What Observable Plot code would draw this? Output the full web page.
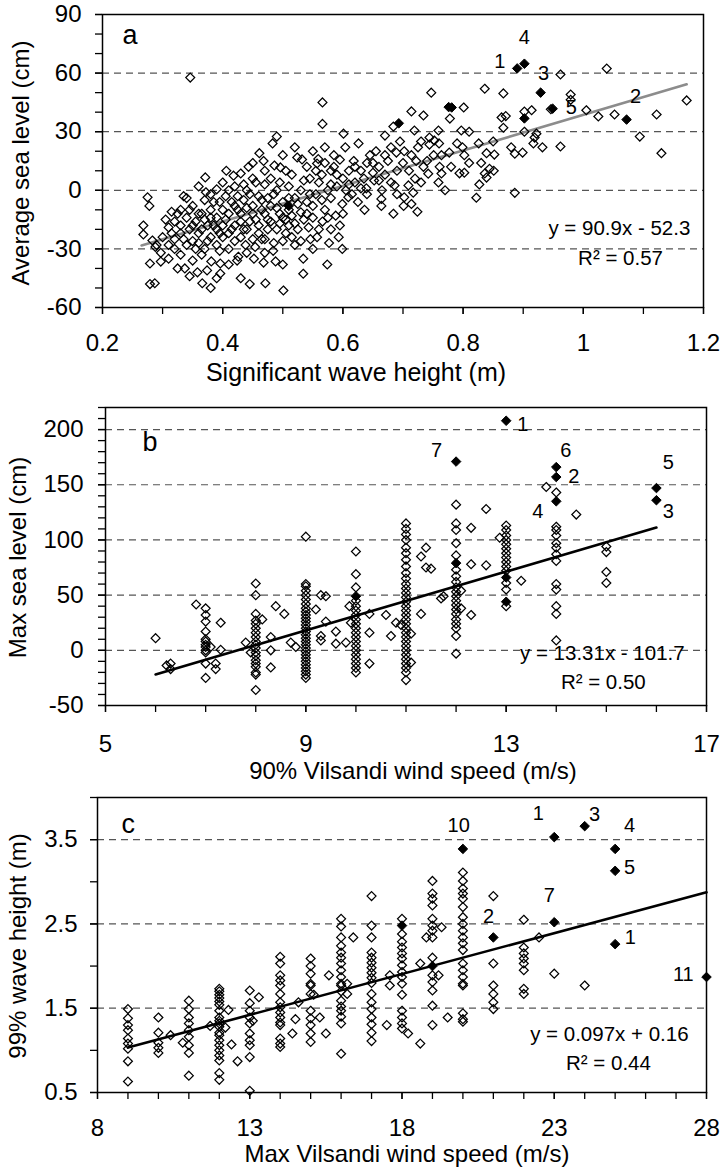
<!DOCTYPE html>
<html><head><meta charset="utf-8">
<script src="https://cdn.jsdelivr.net/npm/d3@7"></script>
<script src="https://cdn.jsdelivr.net/npm/@observablehq/plot@0.6"></script>
<style>body{margin:0;background:#fff} svg{display:block}</style>
</head><body><div id="chart"></div>
<script>
// ---------- Panel a: Significant wave height vs average sea level ----------
const aOpen = [
[0.268,-18],[0.268,-22.6],[0.275,-3.6],[0.278,-8],[0.283,-25.7],[0.288,-29],[0.297,-32],[0.279,-37.5],[0.297,-36.5],[0.279,-48],[0.287,-47.6],[0.29,-28],[0.30,-24],
[0.31,-28],[0.315,-22],[0.32,-16],[0.325,-12],[0.33,-18],[0.335,-25],[0.32,-30],[0.33,-33],[0.325,-40],[0.337,-40],[0.335,-3],[0.34,-4],[0.33,-10],[0.34,-14],[0.31,-19],[0.345,-20],[0.34,-28],[0.345,-44],[0.346,57.7],
[0.35,-8],[0.355,-16],[0.36,-22],[0.365,-12],[0.37,-5],[0.358,-42],[0.366,-47.6],[0.374,-41],[0.37,-30],[0.36,-27],[0.375,-18],[0.38,-24],[0.371,6.6],[0.372,-1],[0.38,-10],[0.35,-26],[0.365,-33],[0.38,-50],[0.381,-36.4],[0.38,-2],[0.36,2],
[0.39,-14],[0.395,-6],[0.40,-18],[0.40,-24],[0.405,-3],[0.41,-12],[0.396,-42.6],[0.396,-37.5],[0.39,-28],[0.41,-30],[0.415,-20],[0.418,7.5],[0.406,10],[0.40,4],[0.42,-8],[0.41,0],[0.395,-22],[0.385,-18],[0.42,-26],[0.42,2],[0.39,0.5],
[0.43,8.6],[0.443,12],[0.424,-36],[0.426,-34],[0.438,-28],[0.445,-48],[0.452,-35],[0.454,-29],[0.43,-16],[0.44,-20],[0.45,-12],[0.435,-5],[0.445,-2],[0.455,4],[0.43,-24],[0.44,0],[0.45,-8],[0.425,-10],[0.46,-18],[0.46,-22],[0.45,6],[0.435,3],
[0.461,19],[0.468,15],[0.483,24],[0.49,27.5],[0.486,12.7],[0.496,11.7],[0.468,-37],[0.471,-47.6],[0.488,-36.4],[0.484,-31],[0.47,-25],[0.475,-15],[0.48,-8],[0.485,-2],[0.49,-20],[0.495,-12],[0.47,3],[0.48,6],[0.465,-5],[0.49,0],[0.50,-6],[0.5,-26],[0.475,-20],[0.465,-10],[0.495,4],
[0.501,-51.3],[0.524,16.8],[0.532,15.8],[0.51,-10],[0.505,-15],[0.51,2],[0.52,-4],[0.515,8],[0.53,-11.3],[0.525,-20],[0.534,-42.7],[0.534,-35],[0.52,-28],[0.53,0],[0.515,-24],[0.535,5],[0.505,10],[0.54,-6],[0.51,-18],
[0.543,-19],[0.546,-25],[0.557,-24],[0.566,-16],[0.574,-38],[0.577,-27],[0.559,16],[0.557,13.7],[0.566,45],[0.566,34],[0.55,-8],[0.555,-2],[0.56,4],[0.565,8],[0.57,-10],[0.575,0],[0.58,10],[0.545,6],[0.55,20],[0.57,22],[0.58,-4],
[0.588,-13],[0.593,-24],[0.599,-30],[0.599,-7],[0.609,-3.5],[0.601,29],[0.604,22],[0.585,12],[0.595,15.7],[0.618,15],[0.59,2],[0.6,6],[0.61,10],[0.615,-2],[0.605,0],[0.62,4],[0.585,18],
[0.626,24],[0.636,-10],[0.639,1],[0.652,5],[0.664,-4.4],[0.664,-8],[0.63,10],[0.64,14],[0.645,18],[0.65,9],[0.655,20],[0.635,6],[0.66,12],[0.625,-6],
[0.684,-12],[0.686,2.5],[0.701,-8],[0.702,-3.6],[0.684,32.6],[0.689,19.3],[0.67,8],[0.675,15],[0.68,22],[0.69,10],[0.695,25],[0.67,28],[0.665,0],
[0.709,2.5],[0.714,-7],[0.717,-1.2],[0.724,-11],[0.702,20],[0.714,18],[0.722,15],[0.714,40.4],[0.734,38.3],[0.719,30.6],[0.734,12],[0.742,8.5],[0.71,10],[0.73,4],[0.725,22],
[0.744,27],[0.752,25.5],[0.744,23.4],[0.747,50],[0.759,30.6],[0.751,18],[0.764,18],[0.761,12],[0.759,4],[0.764,8.6],[0.778,36.7],[0.777,19.3],[0.77,0],
[0.794,8.7],[0.797,30.6],[0.799,22],[0.801,42.4],[0.802,18],[0.802,9],[0.81,14],
[0.822,-3.8],[0.827,3],[0.839,6.5],[0.826,24],[0.836,52],[0.839,19],[0.852,18.3],[0.844,11],[0.836,8.6],[0.851,10],[0.864,37.3],
[0.867,49.6],[0.871,38],[0.867,32],[0.886,18.7],[0.899,19.3],[0.886,-1.3],[0.902,30],[0.902,40.3],
[0.914,41],[0.919,27],[0.917,24],[0.922,29],[0.932,22],[0.962,22.4],[0.962,59.3],[0.946,41.5],[0.979,49],[0.979,46.3],[1.005,41],[1.025,37.8],[1.039,62.3],[1.052,38.8],[1.094,27.5],[1.122,38.8],[1.13,19],[1.172,46],
[0.305,-15],[0.315,-11],[0.32,-25],[0.33,-22],[0.345,-10],[0.35,-18],[0.355,-30],[0.36,-12],[0.365,-20],[0.37,-15],[0.375,-26],[0.38,-14],[0.385,-6],[0.39,-20],[0.395,-31],[0.40,-10],[0.405,-15],[0.41,-22],[0.415,-6],[0.42,-18],[0.425,-3],[0.43,-12],[0.435,-20],[0.44,-9],[0.445,-16],[0.45,-25],[0.455,-15],[0.46,-3],[0.465,-25],[0.47,-12],[0.475,-4],[0.48,-16],[0.485,-27],[0.49,-9],[0.495,-17],[0.50,-14],[0.505,-22],[0.51,-4],[0.515,-13],[0.52,-17],[0.525,-7],[0.53,-26],[0.535,-15],[0.54,-12],[0.545,-2],[0.55,-14],[0.555,10],[0.56,-20],[0.565,-5],[0.57,14],[0.575,-14],[0.58,3],[0.59,8],[0.595,-18],[0.60,-12],[0.61,3],[0.62,12],[0.63,1],[0.64,-2],[0.65,14],[0.66,5],[0.67,18],[0.68,4],[0.69,-2],[0.70,14],[0.72,6],[0.73,25],[0.74,15],[0.76,24],[0.78,12],[0.79,24],[0.81,30],[0.83,14],[0.85,25],[0.88,22],[0.47,10],[0.5,18],[0.52,22],[0.54,12],[0.45,14],[0.44,-32],[0.41,-38],[0.47,-32],[0.5,-38],[0.43,-45],[0.39,-45],[0.35,-36],[0.31,-35],[0.55,-30],[0.58,-20]
];
const aFilled = [[0.89,62.4],[0.902,64.8],[0.929,50],[0.949,41.8],[1.072,36.2],[0.902,36.8],[0.781,42.4],[0.776,42.6],[0.693,34.3],[0.51,-8]];
const aLabels = [["1",0.861,65.7],["4",0.902,78.2],["3",0.934,59.8],["5",0.980,42.1],["2",1.087,47.8]];
const aFit = [90.9, -52.3];           // slope, intercept
const aFitRange = [0.265, 1.172];
const aEq = ["y = 90.9x - 52.3", "R² = 0.57"];
const aXTicks = [0.2, 0.4, 0.6, 0.8, 1, 1.2];
const aXMinor = [0.2,0.3,0.4,0.5,0.6,0.7,0.8,0.9,1,1.1,1.2];
const aYTicks = [-60, -30, 0, 30, 60, 90];
const aYMinor = [-60,-50,-40,-30,-20,-10,0,10,20,30,40,50,60,70,80,90];
const aGrid = [-30, 0, 30, 60];

// ---------- Panel b: 90% Vilsandi wind speed vs max sea level ----------
const bOpen = [
[6,11],[6.22,-13.7],[6.3,-12],[6.3,-17],
[7,38],[7,32],[7,26],[7,17],[7,10],[7,8],[7,5],[7,3],[7,0],[7,-2],[7,-12],[7,-25],[6.81,41.5],[7.3,25],[7.2,-12],[7.2,-17],[7.1,3],[7.3,0.5],
[8,60.5],[8,50],[8,33],[8,27],[8,24],[8,20],[8,16],[8,12],[8,8],[8,5],[8,2],[8,-2],[8,-5],[8,-9],[8,-12],[8,-15],[8,-20],[8,-22],[8,-36],[7.8,7],[7.9,-2],[8.13,28],[8.3,12],[8.3,0],[8.3,-15.5],[8.4,40],[8.57,33],[8.7,7],[8.8,3],
[9,103],[9,60],[9,58],[9,54],[9,50],[9,46],[9,42],[9,38],[9,35],[9,32],[9,29],[9,26],[9,23],[9,20],[9,17],[9,14],[9,11],[9,8],[9,5],[9,2],[9,-1],[9,-4],[9,-7],[9,-10],[9,-13],[9,-16],[9,-19],[9,-22],[9,-25],[9.2,37],[9.3,50],[9.4,49],[9.3,13],[9.3,9],[9.4,26],[9.6,17],[9.6,6],[9.8,7],
[10,89.5],[10,69],[10,57],[10,45],[10,40],[10,36],[10,32],[10,28],[10,24],[10,20],[10,16],[10,12],[10,8],[10,4],[10,0],[10,-4],[10,-8],[10,-12],[10,-16],[10,-20],[9.87,40],[9.9,25],
[10.27,33],[10.27,16],[10.27,-12],[10.6,32],[10.7,13],[10.8,25],[10.9,23],
[11,115],[11,110],[11,105],[11,100],[11,93],[11,88],[11,82],[11,76],[11,70],[11,65],[11,60],[11,56],[11,52],[11,48],[11,44],[11,40],[11,36],[11,32],[11,28],[11,24],[11,20],[11,16],[11,12],[11,8],[11,4],[11,0],[11,-4],[11,-8],[11,-12],[11,-16],[11,-20],[11,-27],[11.1,-11],[11.3,33],[11.1,15],[11.3,85],[11.4,93],[11.5,74],[11.4,75],[11.7,47],[11.75,49],
[12,132],[12,115],[12,109],[12,97],[12,86],[12,73],[12,67],[12,62],[12,57],[12,53],[12,49],[12,45],[12,41],[12,37],[12,33],[12,28],[12,24],[12,20],[12,13],[12,-3],[12.1,54],[12.1,38],[12.3,111],[12.3,78],[12.3,32],[12.6,128],[12.6,77],
[13,113],[13,109],[13,104],[13,100],[13,96],[13,92],[13,88],[13,84],[13,80],[13,76],[13,72],[13,61],[13,55],[13,40],[12.87,102],[13.3,63],
[14,143],[14,112],[14,109],[14,104],[14,97],[14,93],[14,87],[14,81],[14,60],[14,55],[14,40],[14,33],[14,9],[13.8,148],[14.4,123],
[15,94],[15,89],[15,71],[15,61]
];
const bFilled = [[10,49],[12,171],[12,79],[13,208],[13,66],[13,44],[14,166],[14,157],[14,135],[16,147],[16,136]];
const bLabels = [["1",13.33,204.1],["7",11.61,181],["6",14.19,180.6],["2",14.35,157],["4",13.63,125.3],["5",16.24,170.2],["3",16.24,125.3]];
const bFit = [13.31, -101.7];
const bFitRange = [6, 16];
const bEq = ["y = 13.31x - 101.7", "R² = 0.50"];
const bXTicks = [5, 9, 13, 17];
const bXMinor = [5,6,7,8,9,10,11,12,13,14,15,16,17];
const bYTicks = [-50, 0, 50, 100, 150, 200];
const bYMinor = d3.range(-50, 221, 10);
const bGrid = [0, 50, 100, 150, 200];

// ---------- Panel c: Max Vilsandi wind speed vs 99% wave height ----------
const cOpen = [
[9,1.49],[9,1.38],[9,1.30],[9,1.24],[9,1.14],[9,1.08],[9,1.02],[9,0.87],[9,0.63],
[10,1.39],[10,1.21],[10,1.09],[10,1.03],[10,0.97],[10.4,1.18],
[11,1.59],[11,1.49],[11,1.39],[11,1.32],[11,1.24],[11,1.16],[11,1.06],[11,0.97],[11,0.70],[10.8,1.09],
[12,1.73],[12,1.70],[12,1.66],[12,1.62],[12,1.58],[12,1.54],[12,1.47],[12,1.39],[12,1.35],[12,1.32],[12,1.28],[12,1.21],[12,1.18],[12,1.12],[12,1.06],[12,1.0],[12,0.94],[12,0.88],[12,0.73],[12,0.65],[11.7,1.29],[12.3,1.48],[12.2,1.27],[12.4,1.07],[12.6,0.87],
[13,1.71],[13,1.56],[13,1.47],[13,1.39],[13,1.32],[13,1.20],[13,1.12],[13,1.06],[13,0.92],[13,0.52],[13.3,1.63],[13.1,1.35],
[14,2.11],[14,2.03],[14,1.89],[14,1.83],[14,1.77],[14,1.67],[14,1.57],[14,1.51],[14,1.45],[14,1.39],[14,1.33],[14,1.30],[14,1.14],[14,1.08],[14,1.04],[14.4,1.20],[14.5,1.37],[14.6,1.57],
[15,2.09],[15,2.0],[15,1.91],[15,1.79],[15,1.77],[15,1.67],[15,1.47],[15,1.38],[15,1.30],[15,1.20],[15,1.10],[15.1,1.66],[15.3,1.39],[15.5,1.2],[15.6,1.89],
[16,2.56],[16,2.47],[16,2.34],[16,2.24],[16,2.16],[16,2.10],[16,2.03],[16,1.95],[16,1.87],[16,1.79],[16,1.77],[16,1.70],[16,1.59],[16,1.52],[16,1.47],[16,1.40],[16,1.32],[16,0.96],[16.2,1.67],[16.4,2.34],[16.2,1.79],
[17,2.83],[17,2.48],[17,2.34],[17,2.16],[17,2.10],[17,2.04],[17,1.98],[17,1.92],[17,1.86],[17,1.80],[17,1.67],[17,1.57],[17,1.49],[17,1.39],[17,1.31],[17,1.21],[17,1.11],[17.5,1.3],[17.6,1.77],[17.6,1.89],
[18,2.56],[18,2.38],[18,2.29],[18,2.22],[18,2.15],[18,2.09],[18,2.01],[18,1.93],[18,1.87],[18,1.79],[18,1.66],[18,1.47],[18,1.39],[18,1.32],[18,1.26],[18.2,1.2],[18.6,1.08],[18.6,2.03],[18.8,2.34],
[19,3.01],[19,2.86],[19,2.80],[19,2.72],[19,2.56],[19,2.48],[19,2.42],[19,2.34],[19,2.10],[19,1.89],[19,1.81],[19,1.71],[19,1.53],[19,1.30],[19.3,2.46],[19.2,1.89],[19.5,1.39],
[20,3.11],[20,3.01],[20,2.92],[20,2.86],[20,2.80],[20,2.70],[20,2.58],[20,2.50],[20,2.42],[20,2.34],[20,2.27],[20,2.19],[20,2.03],[20,1.95],[20,1.87],[20,1.79],[20,1.77],[20,1.44],[20,1.37],[20,1.34],
[21,2.83],[21,2.03],[21,1.77],[21,1.67],[21,1.57],[21,1.49],
[22,2.55],[22,2.22],[22,2.15],[22,2.09],[22,2.03],[22,1.95],[22,1.73],[22,1.67],[22.5,2.34],
[23,1.91],[24,1.77]
];
const cFilled = [[23,3.53],[24,3.66],[25,3.39],[25,3.13],[25,2.26],[28,1.87],[21,2.34],[20,3.39],[23,2.52],[18,2.48],[19,2.0]];
const cLabels = [["10",19.86,3.668],["1",22.48,3.81],["3",24.32,3.80],["4",25.47,3.668],["5",25.47,3.164],["7",22.84,2.837],["2",20.84,2.582],["1",25.50,2.339],["11",27.24,1.90]];
const cFit = [0.097, 0.16];
const cFitRange = [9, 28];
const cEq = ["y = 0.097x + 0.16", "R² = 0.44"];
const cXTicks = [8, 13, 18, 23, 28];
const cXMinor = d3.range(8, 29, 1);
const cYTicks = [0.5, 1.5, 2.5, 3.5];
const cYMinor = [0.5, 1, 1.5, 2, 2.5, 3, 3.5, 4];
const cGrid = [1.5, 2.5, 3.5];

const FONT = "'Liberation Sans', Arial, Helvetica, sans-serif";

function panel(o) {
  const fitPts = o.fitRange.map(x => ({x, y: o.fit[0] * x + o.fit[1]}));
  const X = d => d[0], Y = d => d[1];
  return Plot.plot({
    width: 722, height: o.height,
    marginTop: o.m[0], marginRight: o.m[1], marginBottom: o.m[2], marginLeft: o.m[3],
    x: {domain: o.xDomain}, y: {domain: o.yDomain},
    style: {fontFamily: FONT, fontSize: "24px", color: "black", background: "white", overflow: "visible"},
    marks: [
      Plot.ruleY(o.grid, {stroke: "#555", strokeWidth: 1.2, strokeDasharray: "7,5"}),
      Plot.axisX({ticks: o.xMinor, tickSize: 7, tickFormat: () => "", label: null, strokeWidth: 1.3}),
      Plot.axisX({ticks: o.xTicks, tickSize: 7, tickPadding: o.xPad, tickFormat: d => String(d), label: null, fontSize: 24, strokeWidth: 1.3}),
      Plot.axisY({ticks: o.yMinor, tickSize: 7, tickFormat: () => "", label: null, strokeWidth: 1.3}),
      Plot.axisY({ticks: o.yTicks, tickSize: 7, tickPadding: o.yPad, tickFormat: d => String(d), label: null, fontSize: 24, strokeWidth: 1.3}),
      Plot.line(fitPts, {x: "x", y: "y", stroke: o.fitColor, strokeWidth: 2.6}),
      Plot.dot(o.open, {x: X, y: Y, symbol: "diamond2", r: 4, stroke: "black", strokeWidth: 1.25, fill: "none"}),
      Plot.dot(o.filled, {x: X, y: Y, symbol: "diamond2", r: 4.3, stroke: "black", strokeWidth: 1, fill: "black"}),
      Plot.text(o.labels, {x: d => d[1], y: d => d[2], text: d => d[0], fontSize: 20}),
      Plot.text(o.eq, {x: (d, i) => o.eqPos[i][0], y: (d, i) => o.eqPos[i][1], text: d => d, fontSize: 20.5}),
      Plot.frame({stroke: "black", strokeWidth: 1.5}),
      Plot.text([o.letter], {frameAnchor: "top-left", textAnchor: "start", lineAnchor: "bottom", dx: o.letterPos[0], dy: o.letterPos[1], fontSize: 27}),
      Plot.text([o.xTitle], {frameAnchor: "bottom", textAnchor: "middle", lineAnchor: "bottom", dx: o.xTitlePos[0], dy: o.xTitlePos[1], fontSize: o.xTitleSize}),
      Plot.text([o.yTitle], {frameAnchor: "left", textAnchor: "middle", lineAnchor: "bottom", rotate: -90, dx: o.yTitlePos[0], dy: o.yTitlePos[1], fontSize: 24})
    ]
  });
}

const root = document.getElementById("chart");
root.append(panel({
  height: 390, m: [14, 19, 83, 102], xDomain: [0.2, 1.2], yDomain: [-60, 90],
  grid: aGrid, xTicks: aXTicks, xMinor: aXMinor, yTicks: aYTicks, yMinor: aYMinor, xPad: 19, yPad: 14,
  open: aOpen, filled: aFilled, labels: aLabels, fit: aFit, fitRange: aFitRange, fitColor: "#8c8c8c",
  eq: aEq, eqPos: [[1.060, -19.7], [1.062, -35.1]],
  letter: "a", letterPos: [20, 29], xTitle: "Significant wave height (m)", xTitlePos: [-47, 73], xTitleSize: 25,
  yTitle: "Average sea level (cm)", yTitlePos: [-74, 2]
}));
root.append(panel({
  height: 390, m: [17, 16, 75, 105], xDomain: [5, 17], yDomain: [-50, 220],
  grid: bGrid, xTicks: bXTicks, xMinor: bXMinor, yTicks: bYTicks, yMinor: bYMinor, xPad: 22, yPad: 15,
  open: bOpen, filled: bFilled, labels: bLabels, fit: bFit, fitRange: bFitRange, fitColor: "black",
  eq: bEq, eqPos: [[14.92, -3.2], [14.94, -29.5]],
  letter: "b", letterPos: [37, 43], xTitle: "90% Vilsandi wind speed (m/s)", xTitlePos: [7, 73], xTitleSize: 24,
  yTitle: "Max sea level (cm)", yTitlePos: [-80, 1]
}));
root.append(panel({
  height: 387, m: [17, 16, 75, 97], xDomain: [8, 28], yDomain: [0.5, 4],
  grid: cGrid, xTicks: cXTicks, xMinor: cXMinor, yTicks: cYTicks, yMinor: cYMinor, xPad: 19, yPad: 13,
  open: cOpen, filled: cFilled, labels: cLabels, fit: cFit, fitRange: cFitRange, fitColor: "black",
  eq: cEq, eqPos: [[24.81, 1.184], [24.78, 0.839]],
  letter: "c", letterPos: [24, 35], xTitle: "Max Vilsandi wind speed (m/s)", xTitlePos: [5, 69], xTitleSize: 24,
  yTitle: "99% wave height (m)", yTitlePos: [-72, 1]
}));
</script>
</body></html>
